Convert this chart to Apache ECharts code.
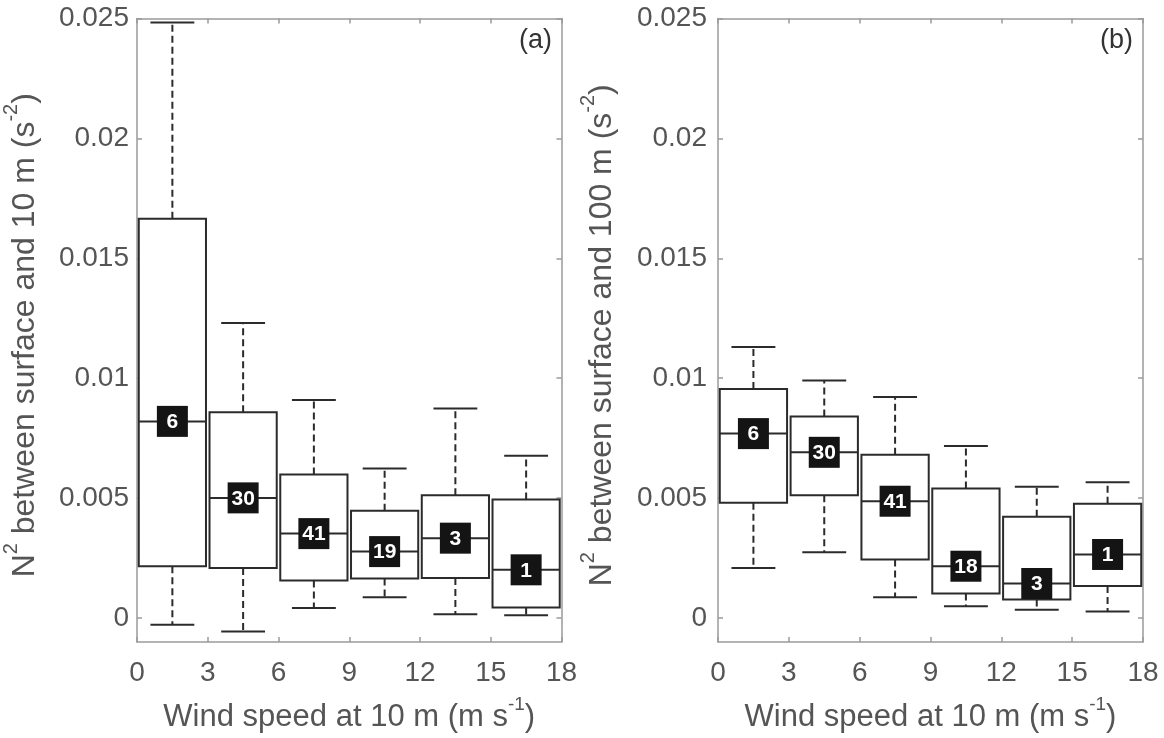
<!DOCTYPE html>
<html>
<head>
<meta charset="utf-8">
<script src="https://cdn.jsdelivr.net/npm/echarts@6/dist/echarts.min.js"></script>
<style>
html,body{margin:0;padding:0;background:#fff;}
#chart{width:1164px;height:738px;}
</style>
</head>
<body>
<div id="chart"></div>
<script>
// ---- data ----
const binStart = [0, 3, 6, 9, 12, 15];
const binEnd   = [3, 6, 9, 12, 15, 18];
const xTicks = [0, 3, 6, 9, 12, 15, 18];
const yTicks = [0, 0.005, 0.01, 0.015, 0.02, 0.025];

// panel (a): N^2 between surface and 10 m
const aLow    = [-0.00028, -0.00056, 0.00042, 0.00087, 0.00016, 0.00012];
const aQ1     = [0.00216, 0.00209, 0.00156, 0.00165, 0.00167, 0.00044];
const aMedian = [0.0082, 0.00501, 0.00352, 0.00277, 0.00333, 0.00201];
const aQ3     = [0.01665, 0.00858, 0.00598, 0.00447, 0.00512, 0.00494];
const aHigh   = [0.02483, 0.0123, 0.00909, 0.00623, 0.00874, 0.00677];
const aCount  = [6, 30, 41, 19, 3, 1];

// panel (b): N^2 between surface and 100 m
const bLow    = [0.00209, 0.00274, 0.00087, 0.00049, 0.00035, 0.00027];
const bQ1     = [0.00481, 0.00512, 0.00244, 0.00102, 0.00077, 0.00133];
const bMedian = [0.00769, 0.00691, 0.00487, 0.00216, 0.00144, 0.00265];
const bQ3     = [0.00955, 0.0084, 0.00681, 0.0054, 0.00422, 0.00476];
const bHigh   = [0.0113, 0.0099, 0.00922, 0.00717, 0.00547, 0.00566];
const bCount  = [6, 30, 41, 18, 3, 1];

function rows(lo, q1, med, q3, hi, n) {
  return binStart.map((s, i) => [s, binEnd[i], lo[i], q1[i], med[i], q3[i], hi[i], n[i]]);
}

const FONT = '"Liberation Sans", Arial, Helvetica, sans-serif';
const TXT = '#555555';
const AX = '#9a9a9a';
const INK = '#2b2b2b';

function renderBox(params, api) {
  const x0 = api.value(0), x1 = api.value(1);
  const xc = (x0 + x1) / 2;
  const pL = api.coord([x0, 0])[0], pR = api.coord([x1, 0])[0];
  const cx = api.coord([xc, 0])[0];
  const bw = (pR - pL) * 0.475;
  const cw = (pR - pL) * 0.31;
  const yLo = api.coord([xc, api.value(2)])[1];
  const yQ1 = api.coord([xc, api.value(3)])[1];
  const yMd = api.coord([xc, api.value(4)])[1];
  const yQ3 = api.coord([xc, api.value(5)])[1];
  const yHi = api.coord([xc, api.value(6)])[1];
  const n = api.value(7);
  const dash = {stroke: INK, lineWidth: 2, lineDash: [7, 4]};
  const solid = {stroke: INK, lineWidth: 2};
  const lab = 31;
  return {
    type: 'group',
    children: [
      {type: 'line', shape: {x1: cx, y1: yQ3, x2: cx, y2: yHi}, style: dash},
      {type: 'line', shape: {x1: cx, y1: yQ1, x2: cx, y2: yLo}, style: dash},
      {type: 'line', shape: {x1: cx - cw, y1: yHi, x2: cx + cw, y2: yHi}, style: solid},
      {type: 'line', shape: {x1: cx - cw, y1: yLo, x2: cx + cw, y2: yLo}, style: solid},
      {type: 'rect', shape: {x: cx - bw, y: yQ3, width: 2 * bw, height: yQ1 - yQ3}, style: {fill: '#fff', stroke: INK, lineWidth: 2}},
      {type: 'line', shape: {x1: cx - bw, y1: yMd, x2: cx + bw, y2: yMd}, style: solid},
      {type: 'rect', shape: {x: cx - lab / 2, y: yMd - lab / 2, width: lab, height: lab}, style: {fill: '#141414'}},
      {type: 'text', x: cx, y: yMd + 1, style: {text: String(n), fill: '#fff', font: 'bold 21px ' + FONT, align: 'center', verticalAlign: 'middle'}}
    ]
  };
}

function yName(h) {
  return '{n|N}{s|2}{n| between surface and ' + h + ' m (s}{s|-2}{n|)}';
}
const yRich = {
  n: {fontSize: 32, color: TXT, fontFamily: FONT, lineHeight: 40, verticalAlign: 'bottom'},
  s: {fontSize: 20, color: TXT, fontFamily: FONT, lineHeight: 40, verticalAlign: 'top'}
};
const xRich = {
  n: {fontSize: 31, color: TXT, fontFamily: FONT, lineHeight: 38, verticalAlign: 'bottom'},
  s: {fontSize: 19, color: TXT, fontFamily: FONT, lineHeight: 38, verticalAlign: 'top'}
};
const xName = '{n|Wind speed at 10 m (m s}{s|-1}{n|)}';

function xAxes(gi) {
  return [
    {gridIndex: gi, type: 'value', min: 0, max: 18, interval: 3, position: 'bottom',
     axisLine: {show: true, onZero: false, lineStyle: {color: AX, width: 1.5}},
     axisTick: {show: true, inside: true, length: 5, lineStyle: {color: AX, width: 1.5}},
     axisLabel: {show: true, fontSize: 28, color: TXT, fontFamily: FONT, margin: 17},
     splitLine: {show: false},
     name: xName, nameLocation: 'middle', nameGap: 53,
     nameTextStyle: {rich: xRich}},
    {gridIndex: gi, type: 'value', min: 0, max: 18, interval: 3, position: 'top',
     axisLine: {show: true, onZero: false, lineStyle: {color: AX, width: 1.5}},
     axisTick: {show: true, inside: true, length: 5, lineStyle: {color: AX, width: 1.5}},
     axisLabel: {show: false}, splitLine: {show: false}}
  ];
}
function yAxes(gi, h, gap) {
  return [
    {gridIndex: gi, type: 'value', min: -0.001, max: 0.025, position: 'left',
     axisLine: {show: true, onZero: false, lineStyle: {color: AX, width: 1.5}},
     axisTick: {show: true, inside: true, length: 5, customValues: yTicks, lineStyle: {color: AX, width: 1.5}},
     axisLabel: {show: true, customValues: yTicks, fontSize: 28, color: TXT, fontFamily: FONT, margin: gap,
       padding: [6, 0, 0, 0],
       formatter: v => String(+(+v).toFixed(3))},
     splitLine: {show: false},
     name: yName(h), nameLocation: 'middle', nameGap: gi === 0 ? 96 : 100, nameRotate: 90,
     nameTextStyle: {rich: yRich, padding: [0, 10, 0, 0]}},
    {gridIndex: gi, type: 'value', min: -0.001, max: 0.025, position: 'right',
     axisLine: {show: true, onZero: false, lineStyle: {color: AX, width: 1.5}},
     axisTick: {show: true, inside: true, length: 5, customValues: yTicks, lineStyle: {color: AX, width: 1.5}},
     axisLabel: {show: false}, splitLine: {show: false}}
  ];
}

const chart = echarts.init(document.getElementById('chart'), null, {renderer: 'canvas'});
chart.setOption({
  backgroundColor: '#ffffff',
  animation: false,
  textStyle: {fontFamily: FONT},
  title: [
    {text: '(a)', right: 607, top: 22, textStyle: {fontSize: 27, fontWeight: 'normal', color: '#333', fontFamily: FONT}},
    {text: '(b)', right: 26, top: 22, textStyle: {fontSize: 27, fontWeight: 'normal', color: '#333', fontFamily: FONT}}
  ],
  grid: [
    {left: 137, right: 602.5, top: 18.5, bottom: 95.3},
    {left: 718, right: 21, top: 18.5, bottom: 95.3}
  ],
  xAxis: [...xAxes(0), ...xAxes(1)],
  yAxis: [...yAxes(0, 10, 8), ...yAxes(1, 100, 11)],
  series: [
    {type: 'custom', xAxisIndex: 0, yAxisIndex: 0, renderItem: renderBox,
     encode: {x: [0, 1], y: [2, 3, 4, 5, 6]},
     data: rows(aLow, aQ1, aMedian, aQ3, aHigh, aCount), clip: false},
    {type: 'custom', xAxisIndex: 2, yAxisIndex: 2, renderItem: renderBox,
     encode: {x: [0, 1], y: [2, 3, 4, 5, 6]},
     data: rows(bLow, bQ1, bMedian, bQ3, bHigh, bCount), clip: false}
  ]
});
</script>
</body>
</html>
